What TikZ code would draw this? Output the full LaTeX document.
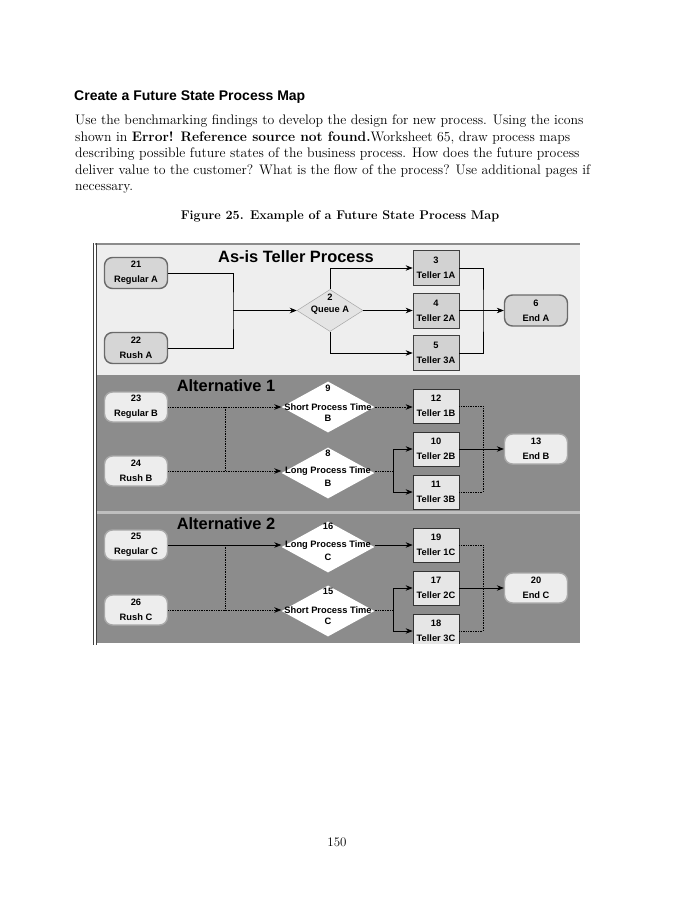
\documentclass[tikz,border=0pt]{standalone}
\usepackage{fontspec}
\newfontfamily\dsans{Liberation Sans}
\usetikzlibrary{shapes.geometric,arrows.meta,calc}
\definecolor{bgA}{HTML}{EEEEEE}
\definecolor{bgB}{HTML}{8C8C8C}
\definecolor{termAfill}{HTML}{D6D6D6}
\definecolor{termAdraw}{HTML}{6A6A6A}
\definecolor{tellAfill}{HTML}{D2D2D2}
\definecolor{diaAfill}{HTML}{E4E4E4}
\definecolor{termBfill}{HTML}{EDEDED}
\definecolor{termBdraw}{HTML}{A8A8A8}
\definecolor{tellBfill}{HTML}{E6E6E6}
\begin{document}
\begin{tikzpicture}[x=1pt,y=-1pt,
  every node/.style={inner sep=0pt},
  bodytxt/.style={anchor=base west,font=\fontsize{13.8}{16}\selectfont},
  lbl/.style={font=\dsans\bfseries\fontsize{9.3}{15}\selectfont,align=center},
  ttl/.style={font=\dsans\bfseries\fontsize{16.4}{18}\selectfont},
  termA/.style={lbl,rectangle,rounded corners=8pt,minimum width=63,minimum height=31,fill=termAfill,draw=termAdraw,line width=1.4pt},
  termB/.style={lbl,rectangle,rounded corners=8pt,minimum width=63,minimum height=30,fill=termBfill,draw=termBdraw,line width=1.4pt},
  tellA/.style={lbl,rectangle,minimum width=46,minimum height=35,fill=tellAfill,draw=black!75,line width=0.7pt},
  tellB/.style={lbl,rectangle,minimum width=46,minimum height=34,fill=tellBfill,draw=black!80,line width=0.7pt},
  diaA/.style={diamond,minimum width=66,minimum height=42,fill=diaAfill,draw=black!35,line width=0.5pt},
  diaB/.style={diamond,minimum width=93,minimum height=51,fill=white},
  conn/.style={line width=0.7pt,black},
  arr/.style={-{Stealth[length=7pt,width=5.5pt]}},
  dotc/.style={densely dotted,line width=0.8pt}
]
\useasboundingbox (0,0) rectangle (674,900);
\fill[white] (0,0) rectangle (674,900);

% ---- page text ----
\node[anchor=base west,font=\dsans\bfseries\fontsize{14}{16}\selectfont] (head) at (74,100) {Create a Future State Process Map};
\node[bodytxt] (l1) at (75,124) {Use the benchmarking findings to develop the design for new process. Using the icons};
\node[bodytxt] (l2) at (75,141) {shown in \textbf{Error! Reference source not found.}Worksheet 65, draw process maps};
\node[bodytxt] (l3) at (75,157) {describing possible future states of the business process. How does the future process};
\node[bodytxt] (l4) at (75,174) {deliver value to the customer? What is the flow of the process? Use additional pages if};
\node[bodytxt] (l5) at (75,190) {necessary.};
\node[anchor=base,font=\bfseries\fontsize{12.6}{14}\selectfont] (cap) at (340,219) {Figure 25. Example of a Future State Process Map};
\node[anchor=base,font=\fontsize{13}{14}\selectfont] (pg) at (337,846) {150};

% ---- backgrounds ----
\fill[bgA] (96,244) rectangle (580,375);
\fill[bgB] (96,375) rectangle (580,511);
\fill[black!25] (96,511) rectangle (580,514);
\fill[bgB] (96,514) rectangle (580,643);
\draw[black!45,line width=1.5pt] (95,244) -- (580,244);
\draw[black!75,line width=0.8pt] (93.5,243) -- (93.5,645);
\draw[black!75,line width=0.8pt] (96.8,243) -- (96.8,645);

% ---- titles ----
\node[ttl] (tA) at (296,257) {As-is Teller Process};
\node[ttl] (tB) at (226,386) {Alternative 1};
\node[ttl] (tC) at (226,524) {Alternative 2};

% ---- As-is ----
\node[termA] (a21) at (136,273) {21\\Regular A};
\node[termA] (a22) at (136,348) {22\\Rush A};
\node[diaA] (q2) at (330,310.5) {};
\node[lbl] (q2n) at ($(q2)+(0,-13)$) {2};
\node[lbl] (q2l) at (q2) {Queue A};
\node[tellA] (t3) at (436,268) {3\\Teller 1A};
\node[tellA] (t4) at (436,310.5) {4\\Teller 2A};
\node[tellA] (t5) at (436,353) {5\\Teller 3A};
\node[termA] (eA) at (536,310.5) {6\\End A};
\coordinate (jA) at (233,310.5);
\coordinate (rA) at (483,310.5);
\draw[conn] (a21.east) -| (jA) |- (a22.east);
\draw[conn,arr] (jA) -- (q2.west);
\draw[conn,arr] (q2.north) |- (t3.west);
\draw[conn,arr] (q2.east) -- (t4.west);
\draw[conn,arr] (q2.south) |- (t5.west);
\draw[conn] (t3.east) -| (rA) |- (t5.east);
\draw[conn,arr] (t4.east) -- (eA.west);

% ---- Alternative 1 ----
\node[termB] (r23) at (136,407) {23\\Regular B};
\node[termB] (r24) at (136,471) {24\\Rush B};
\node[diaB] (d9) at (328,407) {};
\node[lbl] (d9n) at ($(d9)+(0,-19)$) {9};
\node[lbl] (d9l) at (d9) {Short Process Time};
\node[lbl] (d9b) at ($(d9)+(0,11)$) {B};
\node[diaB] (d8) at (328,473) {};
\node[lbl] (d8n) at ($(d8)+(0,-20)$) {8};
\node[lbl] (d8l) at ($(d8)+(0,-2)$) {Long Process Time};
\node[lbl] (d8b) at ($(d8)+(0,10)$) {B};
\node[tellB] (t12) at (436,406) {12\\Teller 1B};
\node[tellB] (t10) at (436,449) {10\\Teller 2B};
\node[tellB] (t11) at (436,492) {11\\Teller 3B};
\node[termB] (eB) at (536,449) {13\\End B};
\coordinate (jB1) at (225,407);
\coordinate (jB2) at (225,471);
\coordinate (sB) at (393,471);
\coordinate (rB) at (483,449);
\draw[conn,dotc,arr] (r23.east) -- (d9.west);
\draw[conn,dotc,arr] (r24.east) -- (d8.west |- r24.east);
\draw[conn,dotc] (jB1) -- (jB2);
\draw[conn,dotc,arr] (d9.east) -- (t12.west |- d9.east);
\draw[conn,dotc] (d8.east |- sB) -- (sB);
\draw[conn,arr] (sB) |- (t10.west);
\draw[conn,arr] (sB) |- (t11.west);
\draw[conn,dotc] (t12.east) -| (rB) |- (t11.east);
\draw[conn,arr] (t10.east) -- (eB.west);

% ---- Alternative 2 ----
\node[termB] (r25) at (136,545) {25\\Regular C};
\node[termB] (r26) at (136,610) {26\\Rush C};
\node[diaB] (d16) at (328,547) {};
\node[lbl] (d16n) at ($(d16)+(0,-21)$) {16};
\node[lbl] (d16l) at ($(d16)+(0,-2)$) {Long Process Time};
\node[lbl] (d16b) at ($(d16)+(0,10)$) {C};
\node[diaB] (d15) at (328,611) {};
\node[lbl] (d15n) at ($(d15)+(0,-20)$) {15};
\node[lbl] (d15l) at ($(d15)+(0,-1)$) {Short Process Time};
\node[lbl] (d15b) at ($(d15)+(0,10)$) {C};
\node[tellB] (t19) at (436,545) {19\\Teller 1C};
\node[tellB] (t17) at (436,588) {17\\Teller 2C};
\begin{scope}
\clip (96,514) rectangle (580,643);
\node[tellB] (t18) at (436,631) {18\\Teller 3C};
\end{scope}
\node[termB] (eC) at (536,588) {20\\End C};
\coordinate (jC1) at (225,545);
\coordinate (jC2) at (225,610);
\coordinate (sC) at (393,610);
\coordinate (rC) at (483,588);
\draw[conn,arr] (r25.east) -- (d16.west |- r25.east);
\draw[conn,dotc,arr] (r26.east) -- (d15.west |- r26.east);
\draw[conn,dotc] (jC1) -- (jC2);
\draw[conn,arr] (d16.east |- t19.west) -- (t19.west);
\draw[conn,dotc] (d15.east |- sC) -- (sC);
\draw[conn,arr] (sC) |- (t17.west);
\draw[conn,arr] (sC) |- (t18.west);
\draw[conn,dotc] (t19.east) -| (rC) |- (t18.east);
\draw[conn,arr] (t17.east) -- (eC.west);
\end{tikzpicture}
\end{document}
